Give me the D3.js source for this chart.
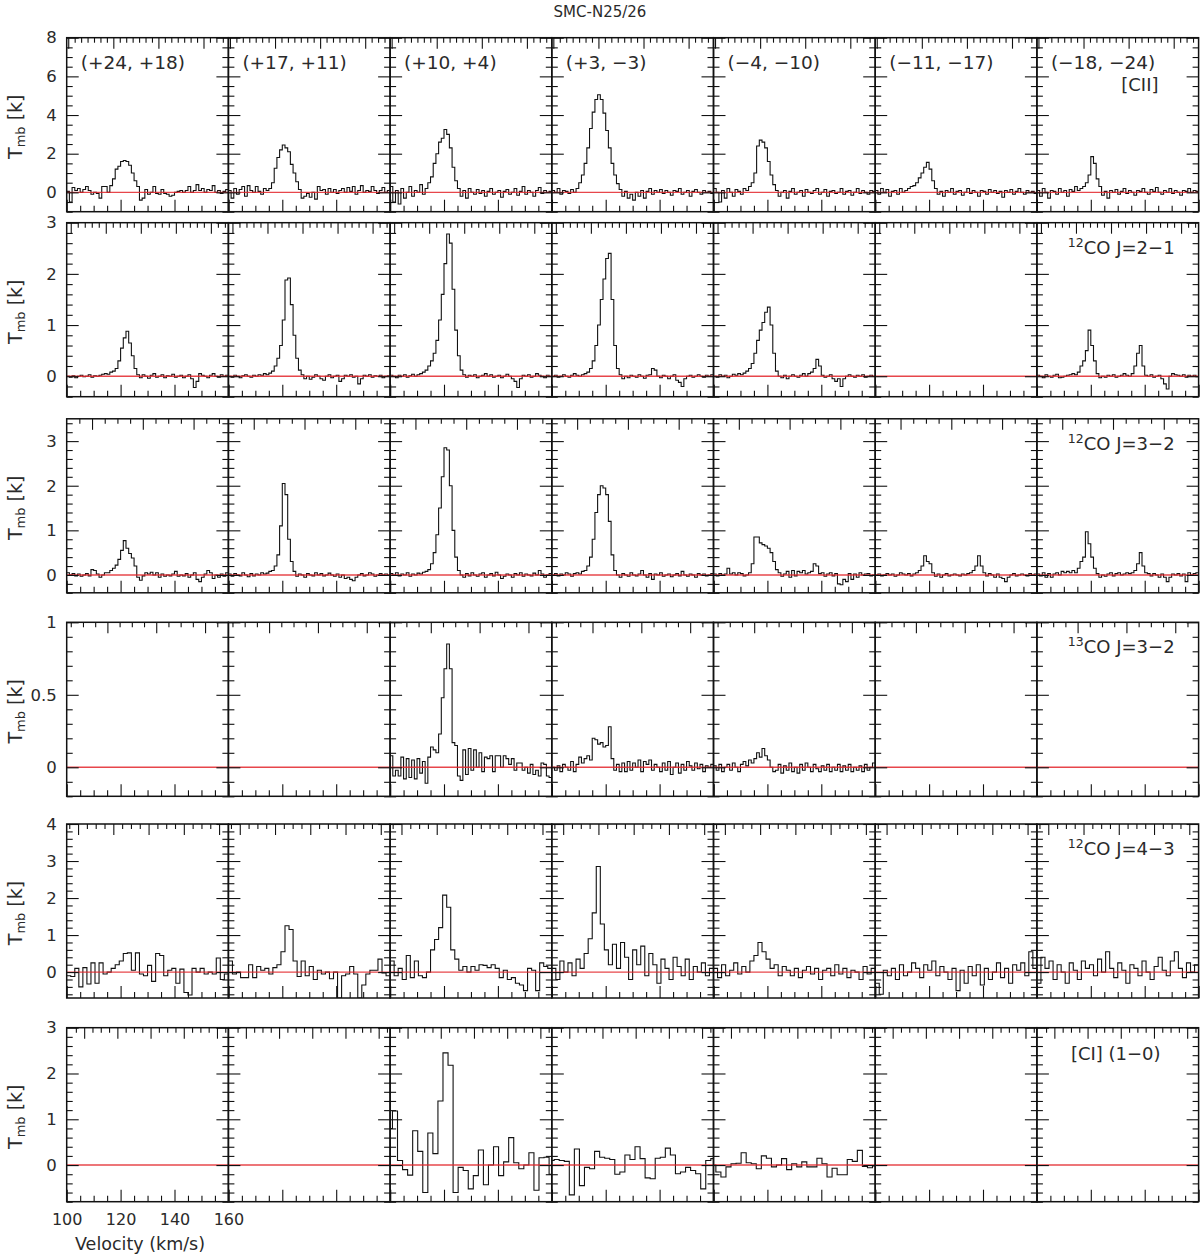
<!DOCTYPE html>
<html>
<head>
<meta charset="utf-8">
<script src="https://cdn.jsdelivr.net/npm/d3@7"></script>
<style>
  body { margin: 0; background: #fff; }
  text { font-family: "DejaVu Sans", sans-serif; fill: #2a2a2a; }
</style>
</head>
<body>
<script>
//chart title and panel labels
var title = "SMC-N25/26";
var positions = ["(+24, +18)", "(+17, +11)", "(+10, +4)", "(+3, \u22123)", "(\u22124, \u221210)", "(\u221211, \u221217)", "(\u221218, \u221224)"];
var lineIso = ["", "12", "12", "13", "12", ""];
var lineNames = ["[CII]", "CO  J=2\u22121", "CO  J=3\u22122", "CO  J=3\u22122", "CO  J=4\u22123", "[CI] (1\u22120)"];

//axes: y ranges and labelled ticks per row, velocity ticks
var yDomains = [[-1, 8], [-0.4, 3], [-0.4, 3.5], [-0.2, 1], [-0.7, 4], [-0.8, 3]];
var yLabels = [[0, 2, 4, 6, 8], [0, 1, 2, 3], [0, 1, 2, 3], [0, 0.5, 1], [0, 1, 2, 3, 4], [0, 1, 2, 3]];
var yMinorStep = [0.5, 0.2, 0.2, 0.1, 0.2, 0.2];
var xLabels = [100, 120, 140, 160];
var xDomain = [100, 160];

//velocity grid of each row (first channel edge, channel width in km/s)
var velStart = [100, 100, 100, 100, 100, 99];
var velStep = [1, 1, 1, 1, 1.5, 1.875];

//top (frequency) axis ticks, expressed in km/s units
var topStep = [2.39, 2.6, 4.71, 4.53, 3.27, 3.08];
var topEvery = [7, 5, 4, 4, 4, 4];
var topFirst = [117.3, 114.5, 109.4, 115.1, 117.3, 118.8];

//[CII] spectra, one per position
var ciiSpectra = [
  [0.05,-0.5,0.25,0.1,0.2,0.0,0.15,0.3,0.1,-0.1, 0.0,-0.05,-0.3,0.3,0.3,0.0,0.35,0.7,1.2,1.35, 1.6,1.65,1.6,1.4,1.0,0.6,0.3,-0.4,-0.3,0.15, -0.1,0.0,0.3,-0.05,-0.1,0.15,-0.05,-0.1,-0.2,-0.15, 0.0,0.05,0.1,0.0,0.1,0.3,0.0,0.1,0.4,0.1, 0.2,0.0,0.15,0.1,0.35,0.0,0.1,-0.05,0.05,0.15],
  [0.1,-0.3,0.2,-0.1,0.15,0.3,-0.2,0.35,0.1,0.0, 0.3,0.05,-0.1,0.2,0.1,0.2,0.5,1.25,1.8,2.2, 2.45,2.3,2.1,1.45,1.0,0.55,0.15,-0.3,-0.2,-0.05, -0.25,0.0,-0.35,0.3,0.1,0.15,-0.1,0.2,0.0,0.15, -0.05,0.1,0.2,0.0,0.25,0.05,0.3,-0.1,0.1,0.35, 0.0,0.1,0.05,0.3,0.1,-0.05,0.1,0.25,0.0,0.1],
  [0.3,-0.5,0.1,-0.6,0.2,-0.3,0.0,0.3,-0.2,0.1, 0.0,0.4,-0.1,0.2,0.5,0.8,1.5,2.0,2.6,2.8, 3.25,3.0,2.3,1.3,0.6,0.2,-0.2,0.1,-0.3,0.2, 0.0,-0.1,0.15,-0.05,0.1,-0.2,0.05,0.2,-0.1,0.0, 0.1,-0.25,0.05,0.15,-0.1,0.0,0.2,-0.15,0.05,0.3, -0.1,0.1,0.0,-0.2,0.1,0.25,-0.05,0.1,0.0,0.05],
  [0.1,0.0,0.2,-0.1,0.1,0.05,-0.05,0.15,0.0,0.2, 0.5,0.9,1.5,2.3,3.3,4.15,4.8,5.05,4.8,4.1, 3.2,2.3,1.5,0.9,0.45,0.15,-0.2,0.05,-0.3,-0.1, -0.4,0.0,-0.2,0.1,-0.3,0.05,0.2,-0.1,0.1,0.0, 0.15,-0.05,0.1,0.0,-0.15,0.1,0.05,0.2,-0.1,0.0, 0.1,-0.2,0.05,0.15,0.0,-0.1,0.1,0.0,0.05,-0.05],
  [0.2,0.0,-0.5,0.1,-0.3,0.2,0.0,-0.2,0.15,0.05, -0.1,0.2,0.1,0.3,0.5,1.0,2.4,2.7,2.6,2.3, 1.6,0.9,0.4,0.1,-0.2,0.0,0.1,-0.3,0.05,0.2, -0.1,0.0,0.1,-0.2,0.15,0.0,-0.05,0.1,0.2,-0.1, 0.0,0.15,-0.2,0.05,0.1,-0.05,0.0,0.2,-0.1,0.05, 0.1,-0.15,0.0,0.2,-0.05,0.1,0.0,-0.1,0.1,0.05],
  [0.1,-0.1,0.2,0.0,0.15,-0.2,0.05,0.1,-0.1,0.2, 0.0,0.1,0.2,0.3,0.35,0.5,0.75,1.0,1.3,1.55, 1.2,0.6,0.2,-0.1,0.05,-0.2,0.1,0.0,0.2,-0.1, 0.05,0.1,-0.15,0.0,0.2,-0.05,0.1,0.0,-0.2,0.1, 0.05,-0.1,0.15,0.0,0.1,-0.05,0.05,-0.25,0.1,0.0, 0.15,-0.1,0.05,0.2,0.0,-0.1,0.1,0.0,0.05,-0.05],
  [0.1,-0.2,0.2,0.0,-0.3,0.1,0.05,-0.1,0.2,0.0, 0.1,-0.2,0.15,0.05,0.3,0.1,0.2,0.3,0.5,0.9, 1.85,1.5,0.7,0.3,-0.15,0.05,-0.3,0.1,0.0,0.15, -0.1,0.05,0.2,-0.05,0.1,0.0,-0.15,0.1,0.05,0.2, 0.0,-0.1,0.15,0.05,0.25,0.0,-0.1,0.1,0.0,0.2, -0.05,0.1,0.0,-0.15,0.1,0.05,0.2,0.0,0.1,0.05]
];

//12CO J=2-1 spectra
var co21Spectra = [
  [0.0,-0.02,0.01,-0.03,0.0,0.02,-0.01,0.0,0.03,-0.02, 0.01,0.0,0.02,0.04,0.05,0.04,0.08,0.1,0.15,0.3, 0.55,0.75,0.88,0.65,0.4,0.15,0.03,-0.03,0.03,0.0, -0.04,0.02,0.05,-0.02,0.0,0.03,-0.03,0.01,0.0,0.04, -0.02,0.0,0.02,-0.03,0.0,0.03,-0.05,-0.22,-0.1,0.05, 0.02,0.0,-0.03,0.02,0.05,0.0,-0.02,0.03,0.0,0.02],
  [0.0,-0.02,0.02,0.0,-0.03,0.01,0.03,0.0,-0.02,0.02, 0.0,0.03,0.02,0.05,0.03,0.06,0.1,0.2,0.35,0.6, 1.1,1.88,1.92,1.4,0.8,0.35,0.12,0.03,-0.05,0.0, -0.06,-0.02,0.03,0.0,-0.05,-0.08,0.0,0.03,-0.03,0.0, 0.02,-0.1,-0.05,0.02,0.0,0.03,-0.02,0.0,-0.15,-0.05, 0.02,0.0,0.03,-0.02,0.01,0.0,0.02,-0.03,0.0,0.01],
  [0.02,0.0,-0.03,0.02,0.0,0.03,-0.02,0.01,0.04,0.0, 0.03,0.05,0.08,0.12,0.2,0.3,0.45,0.7,1.1,1.6, 2.2,2.78,2.6,1.7,0.9,0.4,0.12,0.03,-0.02,0.02, 0.0,0.03,-0.03,0.0,0.02,0.05,0.0,0.03,-0.02,0.0, 0.02,-0.03,0.0,0.04,0.0,-0.05,-0.1,-0.22,-0.05,0.02, 0.0,0.03,-0.02,0.0,0.05,0.02,0.0,-0.03,0.02,0.0],
  [0.0,0.02,-0.02,0.0,0.03,0.0,-0.02,0.02,0.05,0.02, 0.0,0.03,0.05,0.08,0.15,0.3,0.6,1.0,1.5,1.9, 2.3,2.4,1.5,0.6,0.15,0.03,-0.05,0.0,-0.03,0.02, 0.0,-0.02,0.03,0.0,-0.04,0.02,0.03,0.15,0.12,0.0, -0.03,0.02,0.0,-0.05,0.0,0.03,-0.08,-0.12,-0.2,-0.05, 0.0,0.02,-0.02,0.0,0.03,0.0,-0.02,0.02,0.0,0.03],
  [0.0,-0.02,0.03,0.0,0.02,-0.03,0.0,0.04,0.02,0.05, 0.03,0.06,0.1,0.15,0.25,0.45,0.7,0.9,1.05,1.25, 1.35,1.0,0.45,0.1,0.0,-0.03,0.02,-0.05,0.0,0.03, 0.0,-0.02,0.02,0.05,0.0,0.05,0.08,0.15,0.33,0.2, 0.02,-0.02,0.0,0.03,-0.05,-0.1,-0.05,-0.2,-0.05,0.0, 0.03,0.0,-0.02,0.02,0.0,0.03,-0.02,0.0,0.02,0.0],
  null,
  [0.02,0.0,-0.03,0.03,0.0,-0.02,0.02,0.04,-0.03,-0.02, 0.0,0.02,0.03,0.05,0.03,0.08,0.2,0.3,0.5,0.9, 0.6,0.3,0.05,-0.03,0.0,-0.02,0.02,0.0,0.03,-0.02, 0.0,0.02,0.05,0.02,0.0,0.05,0.2,0.45,0.6,0.2, 0.02,0.0,0.03,-0.02,0.0,0.02,-0.05,-0.15,-0.25,0.0, 0.05,0.03,0.02,0.0,0.03,-0.02,0.02,0.0,0.02,-0.01]
];

//12CO J=3-2 spectra
var co32Spectra = [
  [0.05,0.0,0.03,-0.02,0.02,-0.03,0.0,0.03,-0.02,0.12, 0.1,0.02,-0.05,0.0,0.05,0.05,0.1,0.15,0.22,0.35, 0.55,0.77,0.6,0.48,0.38,0.2,-0.05,-0.12,-0.02,0.05, 0.02,0.06,0.0,0.05,-0.05,0.02,-0.03,0.0,-0.02,0.02, 0.08,-0.03,0.0,-0.02,0.03,-0.05,0.0,0.05,-0.1,-0.15, -0.05,0.02,0.1,0.05,-0.08,0.0,-0.05,0.02,-0.03,0.05],
  [0.02,-0.03,0.03,0.0,-0.02,0.05,0.0,-0.04,0.03,-0.02, 0.02,0.0,0.05,0.02,0.04,0.08,0.1,0.2,0.45,1.1, 2.05,1.8,0.8,0.3,0.08,-0.03,0.02,0.0,-0.05,0.03, 0.0,-0.02,0.05,0.0,0.03,-0.02,0.0,0.04,0.0,-0.03, 0.02,-0.05,0.0,-0.08,-0.05,-0.1,-0.13,-0.05,0.0,0.03, -0.02,0.0,0.05,0.02,-0.03,0.0,0.03,0.0,0.02,0.0],
  [0.03,0.0,0.05,-0.02,0.02,0.0,0.05,-0.03,0.02,0.0, 0.04,0.02,0.06,0.08,0.12,0.25,0.5,0.9,1.5,2.2, 2.85,2.8,2.0,1.0,0.4,0.1,0.0,-0.05,0.03,-0.02, 0.05,0.0,-0.03,0.02,0.05,-0.05,0.0,0.03,-0.02,0.06, 0.0,-0.08,-0.03,0.02,0.0,-0.05,0.03,0.0,0.05,-0.03, 0.02,0.0,-0.02,0.04,0.0,0.1,0.02,-0.05,0.0,0.03],
  [0.0,0.03,-0.02,0.02,0.0,0.05,0.02,-0.03,0.03,0.05, 0.02,0.08,0.1,0.2,0.4,0.8,1.4,1.8,2.0,1.95, 1.8,1.2,0.45,0.1,0.0,-0.05,0.03,0.0,-0.03,0.05, 0.0,-0.02,0.02,0.1,0.0,-0.05,0.03,-0.1,0.02,0.0, 0.05,-0.03,0.0,0.02,-0.04,0.0,0.03,-0.02,0.08,0.0, -0.03,0.02,0.0,-0.05,0.03,0.0,0.02,-0.02,0.0,0.03],
  [0.02,-0.02,0.03,0.0,0.02,0.15,0.02,0.05,0.0,0.05, 0.03,-0.02,0.0,0.05,0.25,0.85,0.85,0.72,0.68,0.65, 0.6,0.5,0.3,0.12,0.05,-0.03,0.02,0.08,-0.05,0.1, -0.02,0.08,0.05,0.1,0.02,0.05,0.08,0.25,0.2,0.03, 0.05,-0.03,0.02,0.05,-0.02,0.03,-0.2,-0.22,-0.1,-0.15, 0.03,-0.1,0.02,-0.05,0.05,0.0,0.02,0.03,-0.02,0.0],
  [0.0,0.02,-0.02,0.0,0.03,0.0,0.02,-0.03,0.0,0.05, 0.02,0.0,0.03,-0.02,0.02,0.05,0.1,0.2,0.43,0.3, 0.25,0.05,-0.03,0.02,-0.05,0.0,0.03,-0.02,0.0,0.02, 0.0,-0.02,0.02,0.0,0.03,0.05,0.1,0.2,0.43,0.2, 0.05,-0.02,0.03,0.0,-0.05,0.02,-0.05,-0.08,-0.15,-0.05, 0.0,0.03,-0.02,0.0,0.02,0.0,-0.02,0.03,0.0,0.02],
  [0.02,-0.02,0.05,-0.05,0.03,-0.05,0.02,0.05,0.0,0.08, 0.05,0.08,0.05,0.1,0.05,0.15,0.3,0.4,0.97,0.7, 0.4,0.15,0.03,-0.05,0.0,-0.03,0.02,0.05,-0.02,0.03, 0.05,0.0,0.02,0.05,0.03,0.05,0.1,0.25,0.5,0.2, 0.05,0.03,-0.02,0.03,0.0,-0.05,0.02,-0.05,-0.15,-0.05, 0.02,0.0,0.03,-0.02,0.02,-0.15,0.05,0.0,0.03,0.05]
];

//13CO J=3-2 spectra (only central positions observed)
var co13Spectra = [
  null,
  null,
  [0.08,-0.06,-0.02,-0.06,0.07,-0.08,0.06,-0.07,0.05,-0.08, 0.06,-0.04,0.04,-0.11,0.07,0.14,0.12,0.1,0.23,0.48, 0.68,0.85,0.68,0.17,0.15,-0.06,-0.09,0.12,-0.05,0.13, -0.02,0.12,0.0,0.1,-0.03,0.07,0.06,0.08,-0.03,0.08, 0.08,0.0,0.08,0.06,0.02,0.06,-0.02,0.03,0.03,-0.02, 0.0,-0.04,0.02,-0.05,-0.02,-0.06,0.03,0.02,-0.06,-0.07],
  [0.0,-0.02,0.01,-0.03,0.02,0.0,-0.02,0.04,-0.03,0.02, 0.07,0.03,0.06,0.08,0.05,0.2,0.19,0.16,0.17,0.14, 0.15,0.28,0.06,-0.02,0.02,-0.03,0.03,-0.03,0.04,-0.02, 0.03,0.0,0.05,-0.03,0.04,0.02,0.05,-0.02,0.02,0.0, -0.03,0.03,-0.02,0.04,-0.05,0.0,0.03,-0.04,0.02,-0.02, 0.04,0.01,-0.02,0.03,-0.01,0.02,-0.03,0.01,0.0,0.02],
  [0.01,-0.02,0.02,-0.03,0.0,0.02,-0.02,0.03,0.0,-0.03, 0.02,0.04,0.01,0.05,0.03,0.06,0.1,0.07,0.13,0.08, 0.05,0.0,-0.03,-0.02,0.02,-0.04,0.01,-0.02,0.03,-0.03, 0.0,-0.04,0.02,-0.02,0.03,0.0,-0.03,0.02,-0.01,-0.03, 0.01,-0.02,0.02,-0.03,0.0,-0.02,0.02,-0.03,0.01,-0.02, 0.02,-0.03,0.0,-0.02,0.01,-0.03,0.02,-0.02,0.0,0.03],
  null,
  null
];

//12CO J=4-3 spectra
var co43Spectra = [
  [-0.1,-0.12,0.1,-0.4,0.12,-0.32,0.25,-0.3,0.25,-0.05, 0.0,0.1,0.2,0.3,0.5,0.52,0.05,0.52,-0.05,-0.1, 0.18,-0.25,0.5,0.45,-0.1,0.05,0.1,-0.3,0.08,-0.55, -0.62,0.1,0.0,0.1,-0.05,0.0,-0.05,0.38,-0.2,-0.05],
  [0.3,-0.05,0.0,-0.15,-0.15,0.2,-0.15,0.15,0.05,0.1, -0.05,0.12,0.2,0.55,1.25,1.15,0.3,-0.12,0.3,-0.1, 0.15,-0.2,0.05,-0.05,0.0,-0.18,0.0,-0.7,-0.1,-0.05, 0.15,-0.05,-0.7,-0.35,-0.05,0.05,0.05,0.35,-0.02,-0.1],
  [0.3,-0.1,0.1,-0.2,0.45,-0.15,0.3,-0.1,-0.15,0.0, 0.6,0.88,1.2,2.08,1.75,0.6,0.35,0.05,0.15,0.0, 0.15,0.05,0.2,0.18,0.12,0.2,0.1,-0.15,0.05,-0.2, -0.15,-0.3,-0.35,-0.5,0.1,0.05,-0.5,0.25,0.15,0.1],
  [0.1,-0.2,0.3,0.0,0.25,-0.1,0.35,0.1,0.5,0.9, 1.6,2.85,1.3,0.6,0.2,0.75,0.1,0.8,0.4,-0.2, 0.6,0.2,0.7,-0.1,0.5,0.2,-0.3,0.35,0.1,-0.2, 0.4,0.15,-0.1,0.35,-0.2,0.15,0.0,0.25,-0.1,0.1],
  [0.1,-0.15,0.2,-0.1,0.05,0.25,-0.05,0.15,0.0,0.3, 0.45,0.8,0.55,0.35,0.1,0.2,-0.1,0.15,0.05,-0.1, 0.1,-0.15,0.05,0.15,-0.05,0.1,-0.2,0.05,0.1,-0.1, 0.2,-0.05,0.1,-0.15,0.05,0.0,-0.2,0.15,-0.05,0.1],
  [-0.3,-0.6,0.05,-0.1,0.1,-0.2,0.2,-0.1,0.0,0.25, 0.1,-0.15,0.2,0.05,0.3,-0.1,0.15,0.0,-0.2,0.1, -0.5,0.05,-0.3,0.15,-0.1,0.2,-0.35,0.1,-0.2,0.0, 0.25,-0.15,0.1,-0.3,0.2,0.05,0.25,-0.1,0.55,0.1],
  [-0.3,0.4,0.1,0.3,-0.2,0.2,0.0,-0.3,0.25,0.05, -0.2,0.3,0.1,0.2,-0.1,0.35,0.0,0.55,0.1,-0.15, 0.25,0.05,-0.3,0.2,0.1,-0.1,0.3,0.0,-0.2,0.15, 0.4,0.05,-0.1,0.3,0.55,0.1,-0.15,0.25,0.0,0.2]
];

//[CI] (1-0) spectra
var ciSpectra = [
  null,
  null,
  [0.8,1.18,0.1,-0.1,-0.22,0.75,0.3,-0.6,0.7,0.25, 1.4,2.45,2.18,-0.6,-0.05,-0.12,-0.52,-0.23,0.33,-0.43, 0.0,0.4,-0.23,0.07,0.6,0.05,-0.08,0.0,0.27,-0.55, 0.16,0.17,-0.2],
  [0.1,0.12,0.1,0.08,-0.65,0.35,-0.45,-0.05,-0.08,0.3, 0.17,0.15,0.12,-0.2,-0.15,0.22,0.12,0.4,0.14,-0.28, -0.3,0.15,0.17,0.37,0.22,-0.19,-0.15,-0.05,-0.12,-0.19, -0.52,0.1,0.14],
  [0.0,-0.15,-0.26,-0.04,0.03,0.04,0.27,0.05,0.03,-0.08, 0.2,0.15,-0.04,0.0,0.14,-0.1,0.03,-0.04,0.07,-0.04, -0.04,0.15,0.03,-0.26,-0.07,-0.21,-0.21,0.12,0.08,0.32, -0.03,-0.06,-0.02],
  null,
  null
];

var rowSpectra = [ciiSpectra, co21Spectra, co32Spectra, co13Spectra, co43Spectra, ciSpectra];

//page layout
var width = 1200, height = 1256;
var left = 66.7, colW = 161.7, panelH = 174;
var rowTop = [37.7, 222.7, 418.8, 622.3, 824, 1027.7];

var svg = d3.select("body").append("svg")
  .attr("width", width)
  .attr("height", height);
var defs = svg.append("defs");

svg.append("text")
  .attr("x", 600).attr("y", 17)
  .attr("text-anchor", "middle")
  .attr("font-size", 15)
  .text(title);

//step-line points for channel data
function stepPoints(vals, r){
  var pts = vals.map(function(v, i){ return [velStart[r] + i * velStep[r], v]; });
  pts.push([velStart[r] + vals.length * velStep[r], vals[vals.length - 1]]);
  return pts;
}

//tick values between the frame edges
function stepTicks(d0, d1, step, skip){
  var out = [];
  for (var k = Math.ceil(d0 / step - 1e-6); k * step <= d1 + 1e-6; k++){
    var v = Math.round(k * step * 1000) / 1000;
    if (skip.indexOf(v) < 0) out.push(v);
  }
  return out;
}
function topTicks(r, major){
  var out = [];
  for (var k = -40; k <= 40; k++){
    var v = topFirst[r] + k * topStep[r];
    if (v > 100.4 && v < 159.6){
      var isMajor = ((k % topEvery[r]) + topEvery[r]) % topEvery[r] === 0;
      if (isMajor === major) out.push(v);
    }
  }
  return out;
}
function clean(g){
  g.select(".domain").remove();
  g.selectAll(".tick line").attr("stroke", "#111").attr("stroke-width", 1.1);
  g.attr("font-family", "DejaVu Sans, sans-serif").attr("font-size", 16.5).attr("color", "#2a2a2a");
}

rowSpectra.forEach(function(spectra, r){
  var top = rowTop[r], bottom = top + panelH;
  var y = d3.scaleLinear().domain(yDomains[r]).range([bottom, top]);
  var yMinor = stepTicks(yDomains[r][0], yDomains[r][1], yMinorStep[r], yLabels[r]);
  var xMinor = stepTicks(100, 160, 5, xLabels);

  for (var c = 0; c < 7; c++){
    var px = left + c * colW;
    var x = d3.scaleLinear().domain(xDomain).range([px, px + colW]);
    var g = svg.append("g").attr("class", "panel");
    var clipId = "clip-" + r + "-" + c;
    defs.append("clipPath").attr("id", clipId)
      .append("rect").attr("x", px).attr("y", top).attr("width", colW).attr("height", panelH);

    //spectrum
    if (spectra[c]){
      var line = d3.line()
        .x(function(d){ return x(d[0]); })
        .y(function(d){ return y(d[1]); })
        .curve(d3.curveStepAfter);
      g.append("path")
        .datum(stepPoints(spectra[c], r))
        .attr("clip-path", "url(#" + clipId + ")")
        .attr("fill", "none")
        .attr("stroke", "#111")
        .attr("stroke-width", 1.1)
        .attr("d", line);
    }

    //zero level
    g.append("line")
      .attr("x1", x(100)).attr("x2", x(160))
      .attr("y1", y(0)).attr("y2", y(0))
      .attr("stroke", "#e3262b")
      .attr("stroke-opacity", 0.85)
      .attr("stroke-width", 1.4);

    //bottom axis (velocity)
    var showX = (r === 5 && c === 0);
    var xAxisG = g.append("g").attr("transform", "translate(0," + bottom + ")")
      .call(d3.axisBottom(x).tickValues(xLabels).tickSize(-12).tickPadding(12)
        .tickFormat(showX ? d3.format("d") : ""))
      .call(clean);
    xAxisG.attr("font-size", 16);
    g.append("g").attr("transform", "translate(0," + bottom + ")")
      .call(d3.axisBottom(x).tickValues(xMinor).tickSize(-6).tickFormat(""))
      .call(clean);

    //top axis
    g.append("g").attr("transform", "translate(0," + top + ")")
      .call(d3.axisTop(x).tickValues(topTicks(r, true)).tickSize(-11).tickFormat(""))
      .call(clean);
    g.append("g").attr("transform", "translate(0," + top + ")")
      .call(d3.axisTop(x).tickValues(topTicks(r, false)).tickSize(-5).tickFormat(""))
      .call(clean);

    //left and right axes
    g.append("g").attr("transform", "translate(" + px + ",0)")
      .call(d3.axisLeft(y).tickValues(yLabels[r]).tickSize(-12).tickPadding(10)
        .tickFormat(c === 0 ? function(d){ return String(d); } : ""))
      .call(clean);
    g.append("g").attr("transform", "translate(" + px + ",0)")
      .call(d3.axisLeft(y).tickValues(yMinor).tickSize(-6).tickFormat(""))
      .call(clean);
    g.append("g").attr("transform", "translate(" + (px + colW) + ",0)")
      .call(d3.axisRight(y).tickValues(yLabels[r]).tickSize(-12).tickFormat(""))
      .call(clean);
    g.append("g").attr("transform", "translate(" + (px + colW) + ",0)")
      .call(d3.axisRight(y).tickValues(yMinor).tickSize(-6).tickFormat(""))
      .call(clean);

    //frame
    g.append("rect")
      .attr("x", px).attr("y", top)
      .attr("width", colW).attr("height", panelH)
      .attr("fill", "none")
      .attr("stroke", "#111")
      .attr("stroke-width", 1.5);

    //position labels on top row
    if (r === 0){
      g.append("text")
        .attr("x", px + 14).attr("y", top + 31)
        .attr("font-size", 18.5)
        .text(positions[c]);
    }
  }

  //y axis title
  var yt = svg.append("text")
    .attr("transform", "translate(22," + (top + panelH / 2 + 2) + ") rotate(-90)")
    .attr("text-anchor", "middle")
    .attr("font-size", 19);
  yt.append("tspan").text("T");
  yt.append("tspan").attr("dy", 3).attr("font-size", 13).text("mb");
  yt.append("tspan").attr("dy", -3).text(" [k]");

  //line name in last column
  var lx = left + 7 * colW;
  var lt = svg.append("text").attr("font-size", 18);
  if (r === 0){
    lt.attr("x", left + 6 * colW + 103).attr("y", top + 53).attr("text-anchor", "middle");
  } else if (r === 5){
    lt.attr("x", lx - 38).attr("y", top + 32).attr("text-anchor", "end");
  } else {
    lt.attr("x", lx - 24).attr("y", top + 31).attr("text-anchor", "end");
  }
  if (lineIso[r]){
    lt.append("tspan").attr("font-size", 12.5).attr("dy", -7).text(lineIso[r]);
    lt.append("tspan").attr("dy", 7).text(lineNames[r]);
  } else {
    lt.append("tspan").text(lineNames[r]);
  }
});

//velocity axis title
svg.append("text")
  .attr("x", 75).attr("y", 1250)
  .attr("font-size", 17.5)
  .text("Velocity (km/s)");
</script>
</body>
</html>
